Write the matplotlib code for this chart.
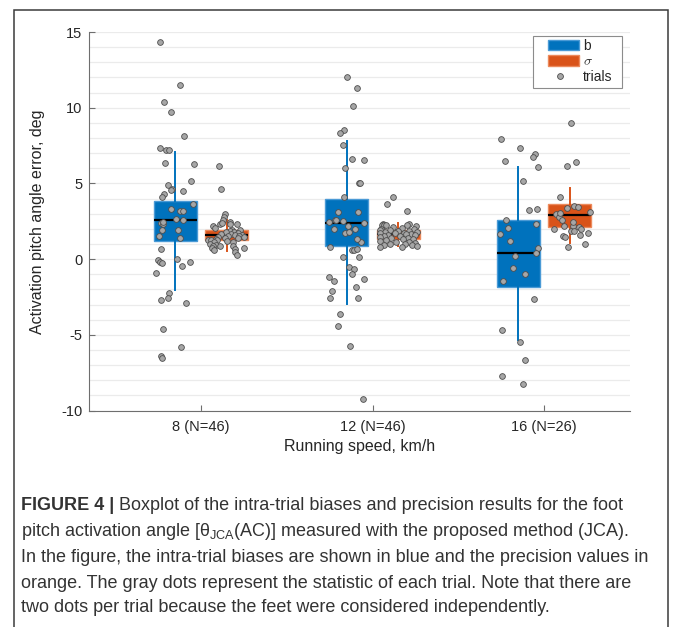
import matplotlib
matplotlib.use("Agg")
import matplotlib.pyplot as plt
from matplotlib.patches import Rectangle, Patch
from matplotlib.lines import Line2D
from matplotlib.ticker import MultipleLocator
from matplotlib.legend_handler import HandlerPatch

# ---------------- data ----------------
categories = ["8 (N=46)", "12 (N=46)", "16 (N=26)"]
xlabel = "Running speed, km/h"
ylabel = "Activation pitch angle error, deg"
legend_labels = ["b", r"$\sigma$", "trials"]

# box statistics (whislo, q1, median, q3, whishi)
b_stats = [(-2.02, 1.20, 2.55, 3.87, 7.08),
           (-2.99, 0.87, 2.41, 3.97, 7.79),
           (-5.33, -1.84, 0.38, 2.57, 6.07)]
s_stats = [(0.55, 1.29, 1.57, 1.90, 2.60),
           (0.87, 1.33, 1.69, 1.95, 2.39),
           (1.06, 2.12, 2.88, 3.62, 4.70)]

# trial values (b) and horizontal jitter
b8_y = [14.32, 11.47, 10.39, 9.69, 8.10, 7.35, 7.20, 7.20, 6.36, 6.25,
        5.13, 4.90, 4.31, 4.09, 4.60, 4.55, 4.53, 3.64, 3.31, 3.21,
        3.16, 2.65, 2.61, 2.41, 2.35, 1.90, 1.90, 1.55, 1.40, 0.69,
        -0.03, -0.21, -0.26, 0.01, -0.21, -0.43, -0.89, -2.26, -2.57, -2.68,
        -2.88, -4.64, -5.83, -6.41, -6.54, 2.45]
b8_dx = [-0.087, 0.027, -0.064, -0.023, 0.049, -0.091, -0.056, -0.038, -0.058, 0.109,
         0.093, -0.043, -0.064, -0.076, -0.019, -0.025, 0.047, 0.107, -0.023, 0.026,
         0.047, 0.006, 0.045, -0.082, -0.070, -0.076, 0.014, -0.093, 0.029, -0.082,
         -0.099, -0.089, -0.077, 0.012, 0.087, 0.041, -0.111, -0.038, -0.041, -0.083,
         0.062, -0.070, 0.035, -0.085, -0.076, -0.070]
b12_y = [12.04, 11.28, 10.13, 8.50, 8.32, 7.55, 6.62, 6.53, 6.01, 5.01,
         5.01, 4.09, 3.08, 3.08, 2.48, 2.61, 2.61, 2.37, 2.17, 1.99,
         1.97, 1.75, 1.79, 1.11, 0.78, 0.63, 0.63, 0.69, 0.17, 0.17,
         -0.50, -0.67, -1.01, -1.18, -1.47, -1.34, -1.82, -2.13, -2.57, -2.57,
         -3.60, -4.40, -5.77, -9.27, 2.50, 1.30]
b12_dx = [0.003, 0.057, 0.034, -0.018, -0.040, -0.024, 0.032, 0.102, -0.012, 0.073,
          0.079, -0.018, -0.053, 0.067, -0.106, -0.069, -0.061, 0.102, 0.007, -0.076,
          0.050, -0.011, 0.015, 0.085, -0.096, 0.030, 0.040, 0.061, -0.022, 0.071,
          0.011, 0.042, 0.032, -0.102, -0.073, 0.099, 0.055, -0.085, -0.098, 0.067,
          -0.038, -0.053, 0.019, 0.096, -0.020, 0.060]
b16_y = [7.94, 7.31, 6.91, 6.73, 6.45, 6.09, 5.19, 3.27, 3.34, 2.59,
         2.30, 2.04, 1.64, 0.71, 0.43, 0.19, -0.61, -1.01, -1.42, -2.61,
         -4.71, -5.48, -6.65, -7.73, -8.28, 1.20]
b16_dx = [-0.103, 0.008, 0.097, 0.085, -0.081, 0.112, 0.026, 0.063, 0.109, -0.071,
          0.101, -0.063, -0.107, 0.112, 0.101, -0.019, -0.031, 0.039, -0.089, 0.090,
          -0.097, 0.008, 0.041, -0.093, 0.026, -0.050]

# trial values (sigma) and horizontal jitter
s8_y = [6.14, 4.66, 2.96, 2.78, 2.61, 2.45, 2.35, 2.39, 2.35, 2.30,
        2.17, 2.06, 1.95, 1.90, 1.86, 1.82, 1.82, 1.75, 1.68, 1.64,
        1.60, 1.59, 1.55, 1.51, 1.48, 1.45, 1.42, 1.42, 1.35, 1.29,
        1.24, 1.24, 1.20, 1.16, 1.10, 0.98, 0.91, 0.89, 0.89, 0.85,
        0.76, 0.71, 0.67, 0.58, 0.50, 0.27]
s8_dx = [-0.047, -0.031, -0.012, -0.016, -0.022, 0.020, -0.039, -0.027, 0.019, 0.058,
         -0.078, -0.070, 0.030, 0.080, 0.020, -0.005, 0.042, 0.065, -0.030, 0.028,
         0.090, 0.047, 0.072, 0.008, -0.050, 0.100, -0.012, 0.066, -0.060, -0.110,
         -0.090, -0.055, 0.004, -0.074, 0.035, -0.098, -0.063, -0.078, -0.040, 0.039,
         0.100, -0.086, 0.047, -0.074, 0.051, 0.058]
s12_y = [4.11, 3.64, 3.18, 2.35, 2.30, 2.28, 2.28, 2.28, 2.25, 2.17,
         2.12, 2.05, 2.00, 1.97, 1.93, 1.90, 1.88, 1.85, 1.80, 1.78,
         1.75, 1.73, 1.70, 1.69, 1.66, 1.62, 1.58, 1.55, 1.50, 1.46,
         1.42, 1.38, 1.33, 1.30, 1.25, 1.20, 1.15, 1.10, 1.05, 1.00,
         0.98, 0.95, 0.90, 0.86, 0.82, 0.80]
s12_dx = [-0.028, -0.063, 0.051, 0.060, -0.090, -0.096, -0.083, -0.069, 0.048, 0.106,
          -0.030, 0.020, -0.100, 0.090, -0.050, -0.108, 0.065, 0.000, -0.075, 0.110,
          0.035, -0.105, -0.020, 0.075, 0.045, -0.060, 0.100, 0.012, -0.085, -0.108,
          0.055, -0.040, 0.085, 0.025, -0.070, -0.105, 0.060, -0.015, 0.100, -0.050,
          0.040, 0.080, -0.085, 0.110, 0.020, -0.107]
s16_y = [8.98, 6.40, 6.14, 4.13, 3.49, 3.41, 3.38, 3.10, 3.01, 2.81,
         2.61, 2.19, 2.17, 2.10, 1.99, 1.97, 1.88, 1.84, 1.75, 1.57,
         1.51, 1.44, 1.03, 0.83, 2.45, 3.05]
s16_dx = [0.004, 0.037, -0.019, -0.057, 0.023, 0.045, -0.017, 0.115, -0.083, -0.062,
          -0.045, -0.035, 0.016, 0.051, 0.064, -0.091, 0.004, 0.022, 0.107, 0.058,
          -0.041, -0.031, 0.089, -0.010, 0.020, -0.060]

caption_bold = "FIGURE 4 |"
caption_lines = [
    " Boxplot of the intra-trial biases and precision results for the foot",
    r"pitch activation angle [$\mathrm{\theta}_{\mathrm{JCA}}$(AC)] measured with the proposed method (JCA).",
    "In the figure, the intra-trial biases are shown in blue and the precision values in",
    "orange. The gray dots represent the statistic of each trial. Note that there are",
    "two dots per trial because the feet were considered independently.",
]

# ---------------- style ----------------
BLUE = "#0072BD"
BLUE_EDGE = "#4a9ad6"
ORANGE = "#D95319"
ORANGE_EDGE = "#ec8a5c"
TXT = "#262626"
plt.rcParams["font.family"] = ["Liberation Sans", "DejaVu Sans"]
plt.rcParams["axes.unicode_minus"] = False
plt.rcParams["mathtext.fontset"] = "custom"
plt.rcParams["mathtext.rm"] = "Liberation Sans"
plt.rcParams["mathtext.it"] = "Liberation Sans:italic"

W, H = 673, 627
fig = plt.figure(figsize=(W / 100, H / 100), dpi=100)
ax = fig.add_axes([89.3 / W, 1 - 410.5 / H, (630 - 89.3) / W, (410.5 - 32) / H])

pos = [1, 2, 3]
off = 0.15
bwidth = 0.25


def mkstats(s):
    lo, q1, med, q3, hi = s
    return dict(whislo=lo, q1=q1, med=med, q3=q3, whishi=hi, fliers=[])


for stats, sign, fc, ec in [(b_stats, -1, BLUE, BLUE_EDGE), (s_stats, 1, ORANGE, ORANGE_EDGE)]:
    ax.bxp([mkstats(s) for s in stats], positions=[p + sign * off for p in pos],
           widths=bwidth, patch_artist=True, showfliers=False, showcaps=False,
           boxprops=dict(facecolor=fc, edgecolor=ec, linewidth=1.0),
           whiskerprops=dict(color=fc, linewidth=1.4),
           medianprops=dict(color="black", linewidth=1.6),
           manage_ticks=False, zorder=2)

groups = [(b8_y, b8_dx, 1 - off), (s8_y, s8_dx, 1 + off),
          (b12_y, b12_dx, 2 - off), (s12_y, s12_dx, 2 + off),
          (b16_y, b16_dx, 3 - off), (s16_y, s16_dx, 3 + off)]
for ys, dxs, c in groups:
    ax.scatter([c + d for d in dxs], ys, s=17, facecolor="#a6a6a6",
               edgecolor="#4d4d4d", linewidth=0.6, zorder=4)

ax.set_xlim(0.35, 3.5)
ax.set_ylim(-10, 15)
ax.set_xticks(pos)
ax.set_xticklabels(categories)
ax.set_yticks([-10, -5, 0, 5, 10, 15])
ax.yaxis.set_minor_locator(MultipleLocator(1))
ax.grid(True, axis="y", which="both", color="#ebebeb", linewidth=0.9, zorder=0)
ax.set_axisbelow(True)
for s in ["top", "right"]:
    ax.spines[s].set_visible(False)
for s in ["left", "bottom"]:
    ax.spines[s].set_color("#6e6e6e")
    ax.spines[s].set_linewidth(0.8)
ax.tick_params(axis="both", which="major", direction="in", length=4, width=0.8,
               color="#6e6e6e", labelsize=10.5, labelcolor=TXT)
ax.tick_params(axis="x", pad=7)
ax.tick_params(axis="y", pad=5)
ax.tick_params(axis="y", which="minor", length=0)

ax.set_xlabel(xlabel, fontsize=11.5, color=TXT)
ax.set_ylabel(ylabel, fontsize=11.5, color=TXT)
ax.xaxis.set_label_coords(0.5, -0.074)
ax.yaxis.set_label_coords(-0.082, 0.5)


def offset_patch(legend, orig_handle, xdescent, ydescent, width, height, fontsize):
    return Rectangle((-xdescent + width * 11.0 / 46.0, -ydescent), width * 31.0 / 46.0, height)


# legend box (frame drawn separately for MATLAB-like padding)
fig.patches.append(Rectangle((533.3 / W, 1 - 87.7 / H), (622.3 - 533.3) / W, (87.7 - 36) / H,
                             transform=fig.transFigure, facecolor="white",
                             edgecolor="#8c8c8c", linewidth=0.8, zorder=1))
handles = [Patch(facecolor=BLUE, edgecolor=BLUE_EDGE),
           Patch(facecolor=ORANGE, edgecolor=ORANGE_EDGE),
           Line2D([], [], linestyle="none", marker="o", markersize=4.2,
                  markerfacecolor="#a6a6a6", markeredgecolor="#4d4d4d", markeredgewidth=0.6)]
leg = fig.legend(handles, legend_labels, loc="upper left",
                 bbox_to_anchor=(537 / W, 1 - 38.7 / H),
                 borderaxespad=0, fontsize=10, frameon=False,
                 handlelength=46 / 13.89, handleheight=0.8,
                 handletextpad=0.0, labelspacing=0.12, borderpad=0.0,
                 handler_map={Patch: HandlerPatch(patch_func=offset_patch)})
for t in leg.get_texts():
    t.set_color(TXT)
leg.get_texts()[1].set_math_fontfamily("cm")

# outer frame
fig.patches.append(Rectangle((13.5 / W, -0.02), (667.5 - 13.5) / W, 1.02 - 9.5 / H,
                             transform=fig.transFigure, fill=False,
                             edgecolor="#3a3a3a", linewidth=1.1, zorder=1))

# caption
cap_font = ["Liberation Sans", "DejaVu Sans"]
CAP = "#333333"
cap_size = 13.0
line_y = [505, 531, 557, 583, 608]
x0 = 21 / W
tb = fig.text(x0, 1 - line_y[0] / H, caption_bold, fontsize=cap_size, fontweight="bold",
              family=cap_font, color=CAP, va="center", ha="left")
renderer = fig.canvas.get_renderer()
bb = tb.get_window_extent(renderer)
fig.text(bb.x1 / W, 1 - line_y[0] / H, caption_lines[0], fontsize=cap_size,
         family=cap_font, color=CAP, va="center", ha="left")
for ly, txt in zip(line_y[1:], caption_lines[1:]):
    fig.text(x0, 1 - ly / H, txt, fontsize=cap_size, family=cap_font, color=CAP,
             va="center", ha="left")

fig.savefig("out.png", dpi=100)
